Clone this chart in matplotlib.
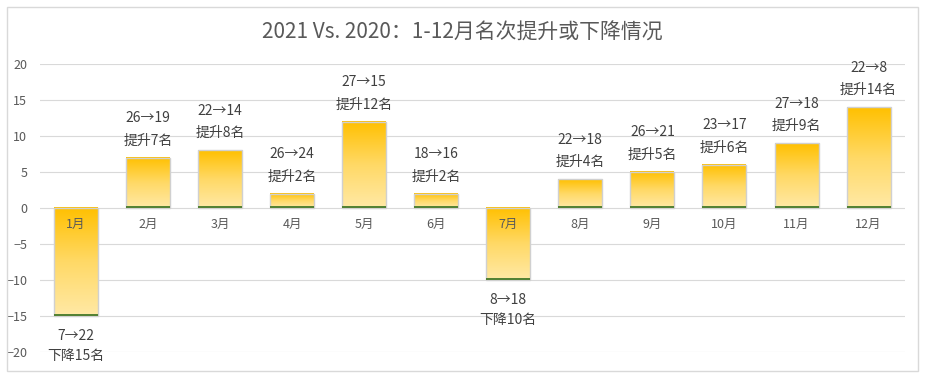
import numpy as np
import matplotlib
matplotlib.use("Agg")
import matplotlib.pyplot as plt
from matplotlib.colors import LinearSegmentedColormap
from matplotlib.patches import Rectangle

plt.rcParams['font.family'] = ['Noto Sans CJK SC', 'DejaVu Sans']

# 数据
months = ['1月', '2月', '3月', '4月', '5月', '6月', '7月', '8月', '9月', '10月', '11月', '12月']
rank_2020 = [7, 26, 22, 26, 27, 18, 8, 22, 26, 23, 27, 22]
rank_2021 = [22, 19, 14, 24, 15, 16, 18, 18, 21, 17, 18, 8]
change = [a - b for a, b in zip(rank_2020, rank_2021)]
yticks = [-20, -15, -10, -5, 0, 5, 10, 15, 20]

gray = '#595959'
cmap = LinearSegmentedColormap.from_list('gold', ['#FFE9A6', '#FFD966', '#FFC000'])
grad = np.linspace(0, 1, 256).reshape(-1, 1)

fig = plt.figure(figsize=(9.25, 3.79), dpi=100)
ax = fig.add_axes([0.043, 0.071, 0.935, 0.76])
fig.patches.append(Rectangle((0.008, 0.02), 0.984, 0.962, transform=fig.transFigure,
                             fill=False, edgecolor='#D9D9D9', lw=1))

x = np.arange(len(months))
w = 0.61
for i, v in enumerate(change):
    top, bot = max(v, 0), min(v, 0)
    ax.imshow(grad, cmap=cmap, origin='lower', aspect='auto',
              extent=(i - w / 2, i + w / 2, bot, top), zorder=2)
    ax.add_patch(Rectangle((i - w / 2, bot), w, top - bot, fill=False,
                           edgecolor='#D0D0D0', lw=1, zorder=3))
    # 细绿条
    gy = 0 if v > 0 else v
    ax.add_patch(Rectangle((i - w / 2, gy), w, 0.3, color='#548235', lw=0, zorder=3))

    l1 = f'{rank_2020[i]}→{rank_2021[i]}'
    l2 = ('提升' if v > 0 else '下降') + f'{abs(v)}名'
    if v > 0:
        ax.annotate(l2, (i, v), xytext=(0, 12.5), textcoords='offset points',
                    ha='center', va='center', fontsize=10, color='#404040', annotation_clip=False)
        ax.annotate(l1, (i, v), xytext=(0, 28.5), textcoords='offset points',
                    ha='center', va='center', fontsize=10, color='#404040', annotation_clip=False)
    else:
        ax.annotate(l1, (i, v), xytext=(0, -14), textcoords='offset points',
                    ha='center', va='center', fontsize=10, color='#404040', annotation_clip=False)
        ax.annotate(l2, (i, v), xytext=(0, -28.5), textcoords='offset points',
                    ha='center', va='center', fontsize=10, color='#404040', annotation_clip=False)
    ax.annotate(months[i], (i, 0), xytext=(0, -11.5), textcoords='offset points',
                ha='center', va='center', fontsize=9, color=gray, zorder=5)

ax.set_xlim(-0.5, len(months) - 0.5)
ax.set_ylim(-20, 20)
ax.set_yticks(yticks)
ax.set_xticks([])
ax.tick_params(axis='y', length=0, labelsize=9, labelcolor=gray, pad=9)
ax.grid(axis='y', color='#D9D9D9', lw=0.8, zorder=0)
ax.set_axisbelow(True)
for s in ax.spines.values():
    s.set_visible(False)

fig.text(0.5, 0.915, '2021 Vs. 2020：1-12月名次提升或下降情况', ha='center', va='center',
         fontsize=15, color=gray)

fig.savefig('out.png', dpi=100)
